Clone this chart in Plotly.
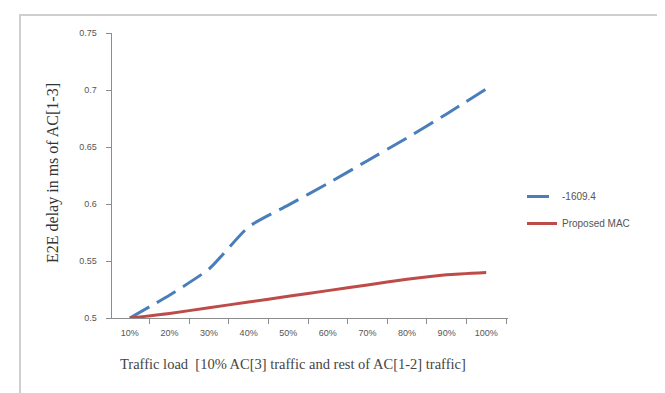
import plotly.graph_objects as go

categories = ["10%", "20%", "30%", "40%", "50%", "60%", "70%", "80%", "90%", "100%"]
series_1609 = [0.500, 0.520, 0.543, 0.580, 0.599, 0.618, 0.638, 0.658, 0.679, 0.701]
series_proposed = [0.500, 0.504, 0.509, 0.514, 0.519, 0.524, 0.529, 0.534, 0.538, 0.540]
y_ticks = [0.5, 0.55, 0.6, 0.65, 0.7, 0.75]
y_tick_labels = ["0.5", "0.55", "0.6", "0.65", "0.7", "0.75"]

W, H = 665, 393
L, R, T, B = 104, 165, 25, 83
pw, ph = W - L - R, H - T - B

def px(x):
    return (x - L) / pw

def py(y):
    return (H - B - y) / ph

fig = go.Figure()
fig.add_trace(go.Scatter(
    x=categories, y=series_1609, mode="lines", name="-1609.4",
    legendgroup="a",
    line=dict(color="#4A7EBB", width=3, dash="22px,9px", shape="spline", smoothing=0.5),
))
fig.add_trace(go.Scatter(
    x=categories, y=series_proposed, mode="lines", name="Proposed MAC",
    legendgroup="b",
    line=dict(color="#BE4B48", width=3, shape="spline", smoothing=0.5),
))

axis_col = "#8c8c8c"
tick_font = dict(family="Liberation Sans, Arial", size=9, color="#555555")

fig.update_layout(
    width=W, height=H,
    margin=dict(l=L, r=R, t=T, b=B),
    paper_bgcolor="white", plot_bgcolor="white",
    showlegend=True,
    legend=dict(
        x=px(514), y=py(174), xanchor="left", yanchor="top",
        font=dict(family="Liberation Sans, Arial", size=10, color="#555555"),
        itemwidth=30, tracegroupgap=8, bgcolor="rgba(0,0,0,0)",
    ),
    xaxis=dict(
        type="category", categoryorder="array", categoryarray=categories,
        range=[-0.45, 9.55],
        showline=True, linecolor=axis_col, linewidth=1,
        ticks="outside", tickson="boundaries", ticklen=5, tickcolor=axis_col,
        ticklabelstandoff=6,
        showgrid=False, zeroline=False, tickfont=tick_font,
    ),
    yaxis=dict(
        range=[0.5, 0.75], tickvals=y_ticks,
        ticktext=[t + "\u00a0\u00a0\u00a0" for t in y_tick_labels],
        showline=True, linecolor=axis_col, linewidth=1,
        ticks="outside", ticklen=5, tickcolor=axis_col, tickwidth=1,
        showgrid=False, zeroline=False, tickfont=tick_font,
    ),
    shapes=[
        dict(type="rect", xref="paper", yref="paper",
             x0=px(12), x1=px(672), y0=py(389), y1=py(7),
             line=dict(color="#cfcfcf", width=2), fillcolor="rgba(0,0,0,0)", layer="below"),
    ],
    annotations=[
        dict(text="E2E delay in ms of AC[1-3]", xref="paper", yref="paper",
             x=px(45), y=py(165), xanchor="center", yanchor="middle",
             textangle=-90, showarrow=False,
             font=dict(family="Liberation Serif, Times New Roman", size=16, color="#333333")),
        dict(text="Traffic load  [10% AC[3] traffic and rest of AC[1-2] traffic]",
             xref="paper", yref="paper", x=px(110), y=py(356),
             xanchor="left", yanchor="middle",
             showarrow=False,
             font=dict(family="Liberation Serif, Times New Roman", size=14.5, color="#444444")),
    ],
)

fig.write_html("out.html")
